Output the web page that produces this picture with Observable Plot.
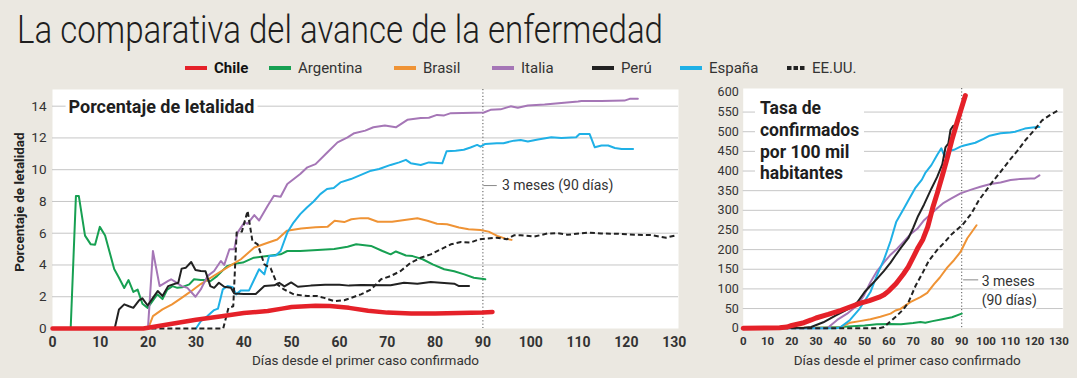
<!DOCTYPE html>
<html><head><meta charset="utf-8">
<script src="https://cdn.jsdelivr.net/npm/d3@7"></script>
<script src="https://cdn.jsdelivr.net/npm/@observablehq/plot@0.6"></script>
<style>
body{margin:0;background:#ebe8e1;}
#wrap{position:relative;width:1077px;height:378px;background:#ebe8e1;overflow:hidden;font-family:Roboto,"Noto Sans",sans-serif;color:#222;}
#title{position:absolute;left:17px;top:11px;font-size:38px;font-weight:300;white-space:nowrap;transform-origin:0 0;color:#1e1e1e;line-height:1;}
.leg{position:absolute;top:59px;height:18px;display:flex;align-items:center;font-size:15px;color:#333;white-space:nowrap;}
.leg svg{margin-right:7px;}
.chart{position:absolute;top:85px;}
</style></head><body>
<div id="wrap"><div id="title"><span id="tt">La comparativa del avance de la enfermedad</span></div></div>
<script>
// ---------- data ----------
const countries = ["Chile","Argentina","Brasil","Italia","Perú","España","EE.UU."];
const colors = ["#e52129","#17a052","#ef9335","#a576b6","#222222","#1fb0e6","#222222"];
const xTicks = [0,10,20,30,40,50,60,70,80,90,100,110,120,130];
const letTicks = [0,2,4,6,8,10,12,14];
const tasaTicks = [0,50,100,150,200,250,300,350,400,450,500,550,600];
const markDay = [90];

// Porcentaje de letalidad: [día, %]
const chileLet = [[0,0],[19,0],[20,0.05],[25,0.3],[30,0.55],[35,0.75],[40,0.97],[45,1.1],[48,1.25],[50,1.35],[55,1.43],[58,1.42],[62,1.3],[66,1.12],[70,1.0],[75,0.94],[80,0.94],[85,0.97],[90,1.0],[92,1.04]];
const argLet = [[0,0],[3.8,0],[4.9,8.35],[5.5,8.35],[6.8,5.85],[8,5.3],[8.9,5.28],[9.9,6.4],[11,5.85],[12.9,3.75],[13.9,3.2],[15,2.55],[15.9,3.05],[16.9,2.3],[17.8,2.45],[18.8,1.56],[19.9,1.3],[20.9,1.72],[21.9,2.15],[23,1.85],[24,2.45],[25.1,2.67],[26.1,2.56],[27.1,2.6],[28.6,2.78],[29.6,3.1],[31,3.05],[32,3.05],[33,2.97],[34.4,3.3],[36.5,3.93],[38.4,4.1],[39.8,4.15],[42.1,4.46],[44.9,4.56],[47.7,4.67],[49.1,4.88],[51.8,4.88],[55.4,4.95],[58.9,5.0],[61.7,5.15],[63.5,5.3],[66.6,5.2],[69,4.88],[70.7,4.67],[71.8,4.85],[73.9,4.6],[75.3,4.56],[77.4,4.36],[79.5,4.04],[81.9,3.73],[84,3.6],[86.1,3.41],[88.1,3.2],[90.5,3.1]];
const braLet = [[20,0],[21,0.78],[23,1.2],[25,1.52],[27,1.93],[29,2.35],[31,2.8],[34,3.37],[36.5,3.83],[39.4,4.36],[42.2,5.1],[45,5.4],[47,5.6],[49,6.15],[52,6.3],[55,6.37],[57.5,6.4],[59,6.78],[61,6.7],[62.5,6.88],[64.5,6.95],[66,6.94],[68,6.72],[71,6.72],[74,6.85],[76.3,6.94],[78.4,6.78],[80.4,6.6],[82.5,6.56],[85,6.36],[87,6.25],[89.5,6.2],[91.2,6.1],[93,5.83],[94.7,5.66],[96,5.58]];
const itaLet = [[20,0.2],[21,4.88],[22.4,2.67],[24.2,3.0],[24.8,3.1],[25.6,2.95],[27,2.67],[28.2,2.56],[29.9,2.0],[31,2.46],[32.4,3.3],[33.8,3.62],[35.2,4.25],[35.9,4.0],[37,4.99],[38,4.99],[38.7,6.04],[40.1,6.67],[40.8,6.6],[42.2,7.14],[43.2,6.8],[45,7.73],[46.3,8.36],[47.7,8.3],[49.1,9.1],[51.8,9.73],[53.3,10.15],[55,10.35],[57.5,11.1],[59.6,11.72],[61.7,12.04],[63.1,12.3],[65.4,12.46],[67.1,12.67],[69.5,12.78],[71.8,12.67],[74.2,13.14],[77,13.25],[78.7,13.27],[80.4,13.45],[81.9,13.42],[83.3,13.56],[88.1,13.58],[90.2,13.6],[91.6,13.77],[93.7,13.8],[95.8,13.99],[97.3,13.9],[99.4,14.04],[102.9,14.1],[106.4,14.2],[109.9,14.3],[110.6,14.33],[114.8,14.33],[119.6,14.35],[120.7,14.46],[122.4,14.46]];
const peruLet = [[13,0],[13.9,1.2],[15,1.52],[16,1.4],[16.9,1.3],[18.1,1.77],[18.8,1.9],[19.9,1.45],[21,1.93],[22,2.36],[23,2.05],[24.2,2.67],[25.2,2.78],[26.3,2.88],[27,3.77],[27.9,3.83],[29,4.19],[29.9,3.68],[31,3.62],[32,3.6],[33,2.67],[33.8,2.56],[34.8,2.88],[35.9,2.63],[37.3,2.56],[38,2.2],[40,2.17],[42.5,2.17],[44.3,2.67],[46.4,2.72],[47.4,2.88],[48.5,2.65],[49.9,2.9],[51.3,2.63],[54,2.7],[57,2.75],[60,2.75],[62,2.7],[64.5,2.74],[70.7,2.72],[73.5,2.88],[76.3,2.82],[79.1,2.93],[81.2,2.88],[84,2.82],[85,2.67],[87.1,2.67]];
const espLet = [[30,0],[31,0.46],[32.4,0.78],[33.8,1.16],[34.6,1.25],[35.6,2.46],[36.6,2.67],[37.7,2.6],[38.4,2.15],[39.4,2.4],[41.1,2.4],[42.2,3.1],[43.2,3.73],[44.3,3.41],[45.3,4.57],[46.7,4.6],[47.7,4.88],[49.1,6.04],[50.4,6.67],[51.8,7.2],[53.2,7.62],[54.6,8.0],[56,8.46],[57.4,8.78],[58.8,8.85],[60.2,9.2],[62.4,9.41],[64.5,9.67],[66.6,9.94],[68.3,10.04],[70.7,10.3],[72.5,10.46],[73.9,10.62],[74.9,10.41],[77,10.3],[78.7,10.46],[81.5,10.4],[82.4,11.16],[84.3,11.2],[86,11.26],[87.4,11.4],[88.8,11.56],[89.5,11.45],[90.5,11.62],[92.9,11.67],[94.3,11.67],[96.5,11.83],[97.9,11.87],[99.4,11.77],[101.5,11.9],[104.3,12.04],[106.4,12.0],[109.5,12.04],[110.2,12.25],[112.3,12.25],[113.4,11.41],[114.8,11.52],[116.2,11.52],[117.6,11.37],[119,11.31],[121.4,11.31]];
const usaLet = [[19,0],[35.7,0],[36.8,1.3],[37.8,1.4],[38.5,6.04],[39.6,6.1],[40.8,7.41],[41.8,5.51],[42.9,5.3],[44.3,4.04],[45.6,3.8],[47,2.78],[48.4,2.46],[50.5,2.15],[53.3,2.04],[55.4,2.04],[56.8,1.93],[58.9,1.72],[61,1.78],[63.1,2.0],[64.5,2.15],[66.6,2.46],[68.7,3.1],[70.7,3.3],[72.8,3.62],[74.9,4.14],[77,4.46],[79.1,4.67],[81.2,4.99],[83.3,5.3],[85.4,5.45],[87.4,5.41],[89.2,5.62],[90.9,5.66],[92.9,5.72],[95,5.62],[96.5,5.87],[97.9,5.87],[100.7,5.79],[103.5,5.98],[105.6,6.0],[107.7,5.9],[111.9,6.04],[114.7,5.98],[118.2,5.97],[121.7,5.9],[125.2,5.88],[128.3,5.72],[130.4,5.87]];

// Tasa de confirmados por 100 mil habitantes: [día, tasa]
const chileTasa = [[0,0],[15,1],[18,3],[20,7],[25,14],[28,21],[30,26],[35,35],[40,45],[45,56],[48,63],[52,70],[56,79],[58,85],[60,95],[63,114],[66,138],[68,156],[70,180],[72,205],[74,226],[76,258],[78,305],[80,345],[82,388],[84,432],[86,480],[88,522],[90,562],[91.5,592]];
const argTasa = [[0,0],[30,1],[40,3],[50,7],[55,10],[60,11],[65,10],[70,13],[73,16],[75,14],[78,18],[82,23],[86,28],[90,37]];
const braTasa = [[0,0],[40,2],[44,14],[48,18],[52.4,23],[56.5,29],[60.7,37],[62.7,45],[64.8,49],[69,67],[73,79],[75.8,90],[78.6,112],[81,129],[84,154],[86.8,173],[89.5,194],[92.3,229],[94.3,246],[96.1,262]];
const itaTasa = [[0,0],[34.6,0],[38.7,21],[42.8,37],[46.9,58],[49.7,83],[52.4,117],[55.2,146],[57.9,167],[60.7,187],[63.5,203],[66.2,221],[69,240],[71.7,253],[74.5,275],[77.2,290],[79.9,305],[82.6,319],[85.4,329],[89.5,343],[93.6,352],[97.7,360],[101.9,367],[106,371],[110.1,377],[114.2,380],[118.4,381],[120,381],[122,389]];
const peruTasa = [[0,0],[25,1],[28,3],[33,15],[38,32],[42,45],[45,55],[47,66],[50,92],[52.4,108],[55,125],[58,146],[60.7,167],[62.7,185],[65,205],[68,229],[70,255],[72,285],[74.5,315],[77.5,355],[79.9,385],[82,417],[83.3,460],[84.5,470],[85.4,505],[86.5,515],[88,515]];
const espTasa = [[0,0],[38,0],[40,2],[44,21],[48,50],[52.4,92],[55,133],[58,175],[60.7,222],[63,270],[66,303],[68,325],[71,358],[73.6,378],[75,395],[77.5,415],[80,442],[81.6,458],[83,436],[84.2,450],[86.8,454],[89.5,462],[91,465],[95.6,472],[99,482],[101.5,490],[106,496],[110,498],[112,500],[114,504],[116,508],[118.4,510],[121,512],[122,512]];
const usaTasa = [[0,0],[56,0],[58,3],[60,14],[63,30],[66,48],[68,65],[71,108],[74,142],[76.4,171],[80,200],[83.3,221],[86,240],[90.2,262],[94,292],[97,325],[102.5,371],[106,398],[109.4,425],[113,452],[116.3,479],[120,505],[123.1,529],[127,545],[130,555]];

const letSeries = [chileLet,argLet,braLet,itaLet,peruLet,espLet,usaLet];
const tasaSeries = [chileTasa,argTasa,braTasa,itaTasa,peruTasa,espTasa,usaTasa];

// ---------- helpers ----------
const rows = (pairs, name) => pairs.map(([d, v]) => ({d, v, name}));
const drawOrder = [1,2,3,5,6,4,0]; // Chile last (on top)

function lineMarks(series, chileWidth) {
  return drawOrder.map(i => Plot.line(rows(series[i], countries[i]), {
    x: "d", y: "v", stroke: colors[i],
    strokeWidth: i === 0 ? chileWidth : 2,
    strokeDasharray: countries[i] === "EE.UU." ? "5,3" : null,
    strokeLinejoin: "round", strokeLinecap: i === 6 ? "butt" : "round"
  }));
}

const FONT = "Roboto, 'Noto Sans', sans-serif";
const wrap = document.getElementById("wrap");

// ---------- legend ----------
const legX = [185, 269, 394, 492, 592, 680, 787];
countries.forEach((c, i) => {
  const div = document.createElement("div");
  div.className = "leg";
  div.style.left = legX[i] + "px";
  const w = c === "EE.UU." ? 18 : 22;
  const dash = c === "EE.UU." ? ' stroke-dasharray="4.5,2"' : "";
  div.innerHTML = `<svg width="${w}" height="6"><line x1="0" x2="${w}" y1="3" y2="3" stroke="${colors[i]}" stroke-width="4"${dash}/></svg>` +
    `<span style="${i === 0 ? "font-weight:bold;color:#111" : ""}">${c}</span>`;
  wrap.appendChild(div);
});

// ---------- left chart ----------
const left = Plot.plot({
  width: 690, height: 290,
  marginLeft: 52, marginRight: 12, marginTop: 4, marginBottom: 47,
  style: {fontFamily: FONT, background: "transparent", overflow: "visible"},
  x: {domain: [0, 130.9]},
  y: {domain: [0, 15.05]},
  marks: [
    Plot.frame({fill: "white", stroke: null}),
    Plot.gridY(letTicks.filter(t => t > 0), {stroke: "#c6c6c6", strokeOpacity: 1}),
    Plot.ruleX(markDay, {stroke: "#555", strokeDasharray: "1.2,2.2", strokeWidth: 1}),
    Plot.axisY({ticks: letTicks, tickSize: 0, tickPadding: 6, fontSize: 13.5, label: null, fill: "#333"}),
    Plot.axisX({ticks: xTicks, tickSize: 0, tickPadding: 9, fontSize: 14, fontWeight: "bold", label: null, fill: "#333"}),
    ...lineMarks(letSeries, 4.5),
    Plot.text(["Porcentaje de letalidad"], {frameAnchor: "top-left", dx: 16, dy: 11, lineAnchor: "top", textAnchor: "start",
      fontSize: 18, fontWeight: "bold", fill: "#1e1e1e", stroke: "white", strokeWidth: 8}),
    Plot.text(["Porcentaje de letalidad"], {frameAnchor: "left", dx: -33, dy: -7, rotate: -90, textAnchor: "middle", lineAnchor: "middle",
      fontSize: 13.5, fontWeight: "bold", fill: "#222"}),
    Plot.text(["Días desde el primer caso confirmado"], {frameAnchor: "bottom", dy: 32, lineAnchor: "middle", fontSize: 13.5, fill: "#333"}),
    Plot.ruleY([9], {x1: 90.2, x2: 93, stroke: "#888", strokeWidth: 1}),
    Plot.text(["3 meses (90 días)"], {x: markDay[0], y: 9, dx: 19, textAnchor: "start", fontSize: 14, fill: "#333"})
  ]
});
left.classList.add("chart");
left.style.left = "0px";
wrap.appendChild(left);

// ---------- right chart ----------
const right = Plot.plot({
  width: 387, height: 290,
  marginLeft: 52.7, marginRight: 14.3, marginTop: 3, marginBottom: 47.3,
  style: {fontFamily: FONT, background: "transparent", overflow: "visible"},
  x: {domain: [0, 131.8]},
  y: {domain: [0, 610]},
  marks: [
    Plot.frame({fill: "white", stroke: null}),
    Plot.gridY(tasaTicks.filter(t => t > 0 && t < 600), {stroke: "#c6c6c6", strokeOpacity: 1}),
    Plot.ruleX(markDay, {stroke: "#555", strokeDasharray: "1.2,2.2", strokeWidth: 1}),
    Plot.axisY({ticks: tasaTicks, tickSize: 0, tickPadding: 4.5, fontSize: 12.5, label: null, fill: "#333"}),
    Plot.axisX({ticks: xTicks, tickSize: 0, tickPadding: 9, fontSize: 11.5, fontWeight: "bold", label: null, fill: "#333"}),
    ...lineMarks(tasaSeries, 5),
    Plot.text(["Días desde el primer caso confirmado"], {frameAnchor: "bottom", dx: 4, dy: 32, lineAnchor: "middle", fontSize: 13.5, fill: "#333"}),
    Plot.ruleY([123], {x1: 90.8, x2: 97, stroke: "#888", strokeWidth: 1}),
    Plot.text(["3 meses\n(90 días)"], {x: markDay[0], y: 98, dx: 20, textAnchor: "start", lineAnchor: "middle", lineHeight: 1.35,
      fontSize: 14, fill: "#333", stroke: "white", strokeWidth: 5})
  ]
});
right.classList.add("chart");
right.style.left = "690px";
wrap.appendChild(right);

// white box behind the right chart title, then the title on top
const rs = d3.select(right);
rs.append("rect").attr("x", 65).attr("y", 10).attr("width", 109).attr("height", 91).attr("fill", "white");
rs.append("text")
  .attr("font-family", FONT).attr("font-size", 17.5).attr("font-weight", "bold").attr("fill", "#1e1e1e")
  .attr("text-anchor", "start")
  .selectAll("tspan").data(["Tasa de", "confirmados", "por 100 mil", "habitantes"]).join("tspan")
  .attr("x", 70).attr("y", (d, i) => 29.3 + i * 21.7).text(d => d);

// fit the condensed title width
const tt = document.getElementById("tt");
const tw = tt.getBoundingClientRect().width;
document.getElementById("title").style.transform = `scaleX(${646 / tw})`;
</script>
</body></html>
